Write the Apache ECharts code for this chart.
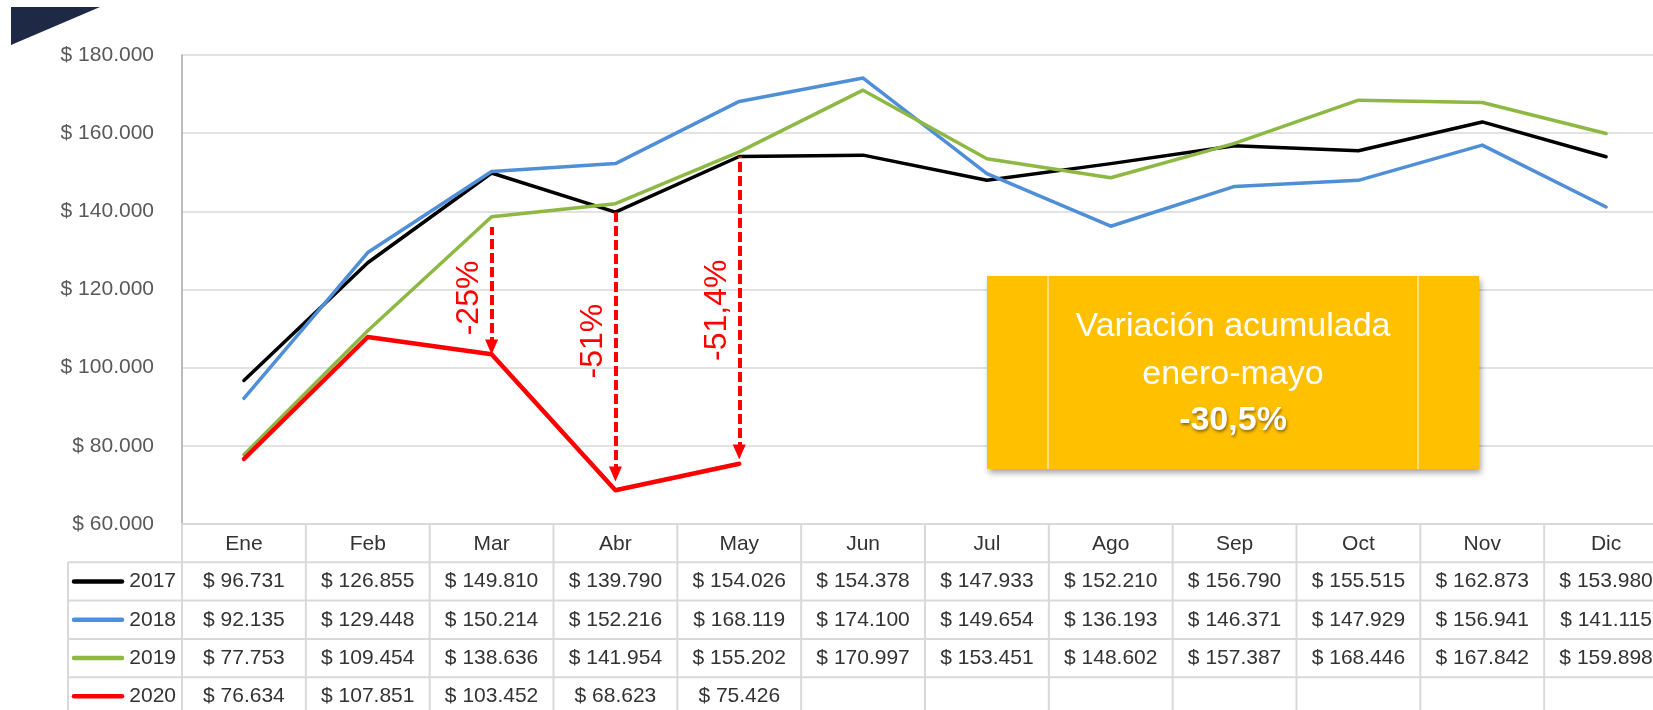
<!DOCTYPE html>
<html>
<head>
<meta charset="utf-8">
<title>Ventas mensuales 2017-2020</title>
<script src="https://cdn.jsdelivr.net/npm/echarts@6/dist/echarts.min.js"></script>
<style>
  html, body { margin: 0; padding: 0; background: #fff; }
  #chart { width: 1653px; height: 710px; }
</style>
</head>
<body>
<div id="chart"></div>
<script>
// datos
const months = ['Ene', 'Feb', 'Mar', 'Abr', 'May', 'Jun', 'Jul', 'Ago', 'Sep', 'Oct', 'Nov', 'Dic']
const years = ['2017', '2018', '2019', '2020']
const v2017 = [96731, 126855, 149810, 139790, 154026, 154378, 147933, 152210, 156790, 155515, 162873, 153980]
const v2018 = [92135, 129448, 150214, 152216, 168119, 174100, 149654, 136193, 146371, 147929, 156941, 141115]
const v2019 = [77753, 109454, 138636, 141954, 155202, 170997, 153451, 148602, 157387, 168446, 167842, 159898]
const v2020 = [76634, 107851, 103452, 68623, 75426]
const colors = ['#000000', '#4e8fd8', '#8db843', '#ff0000']

const yMin = 60000
const yMax = 180000
const yStep = 20000

// flechas de variacion
const arrowMonths = ['Mar', 'Abr', 'May']
const arrowTop = [136000, 139790, 154026]
const arrowEnd = [105300, 72800, 78400]
const arrowLabels = ['-25%', '-51%', '-51,4%']

const boxLines = ['Variación acumulada', 'enero-mayo', '-30,5%']

const FONT = '"Liberation Sans", Arial, sans-serif'
const allSeries = [v2017, v2018, v2019, v2020]
// desplazamiento de las etiquetas de flecha (px hacia abajo)
const labelNudge = [11, -2, 6]

const money = v => '$ ' + String(v).replace(/\B(?=(\d{3})+(?!\d))/g, '.')

const chart = echarts.init(document.getElementById('chart'))

const option = {
  animation: false,
  backgroundColor: '#ffffff',
  textStyle: { fontFamily: FONT },
  grid: { left: 182, top: 55, width: 1486, height: 469, outerBoundsMode: 'none', containLabel: false },
  xAxis: {
    type: 'category',
    data: months,
    boundaryGap: true,
    axisLine: { lineStyle: { color: '#d9d9d9', width: 2 } },
    axisTick: { show: false },
    axisLabel: { interval: 0, fontSize: 21, lineHeight: 21, color: '#333', margin: 10, fontFamily: FONT }
  },
  yAxis: {
    type: 'value',
    min: yMin,
    max: yMax,
    interval: yStep,
    axisLine: { show: true, lineStyle: { color: '#a6a6a6', width: 1.5 } },
    axisTick: { show: false },
    splitLine: { lineStyle: { color: '#d9d9d9', width: 1.5 } },
    axisLabel: { formatter: money, fontSize: 21, color: '#595959', margin: 28, fontFamily: FONT }
  },
  series: years.map((y, i) => ({
    name: y,
    type: 'line',
    data: allSeries[i],
    symbol: 'none',
    z: 2 + i,
    lineStyle: { color: colors[i], width: i === 3 ? 4.5 : 3.5, cap: 'round', join: 'round' },
    markLine: i !== 3 ? undefined : {
      silent: true,
      symbol: ['triangle', 'none'],
      symbolSize: [13, 15],
      lineStyle: { color: '#ff0000', type: [10, 4], width: 4 },
      label: {
        show: true,
        position: 'insideMiddleTop',
        distance: 6,
        color: '#ff0000',
        fontSize: 32,
        fontFamily: FONT,
        formatter: p => arrowLabels[p.dataIndex]
      },
      data: arrowMonths.map((m, k) => [
        {
          coord: [m, arrowEnd[k]],
          label: { padding: labelNudge[k] > 0 ? [0, 2 * labelNudge[k], 0, 0] : [0, 0, 0, -2 * labelNudge[k]] }
        },
        { coord: [m, arrowTop[k]] }
      ])
    }
  }))
}

chart.setOption(option)

// tabla de datos bajo el eje
const px = m => chart.convertToPixel({ xAxisIndex: 0 }, m)
const x0 = px(months[0])
const step = px(months[1]) - x0
const axisY = chart.convertToPixel({ yAxisIndex: 0 }, yMin)
const rowH = 38.3
const legendLeft = 68
const gridColor = '#d9d9d9'
const g = []

for (let k = 1; k <= 4; k++) {
  const y = axisY + rowH * k
  g.push({ type: 'line', shape: { x1: legendLeft, y1: y, x2: 1653, y2: y }, style: { stroke: gridColor, lineWidth: 2 } })
}
for (let j = 0; j <= months.length; j++) {
  const x = x0 - step / 2 + j * step
  g.push({ type: 'line', shape: { x1: x, y1: axisY, x2: x, y2: 710 }, style: { stroke: gridColor, lineWidth: 2 } })
}
g.push({ type: 'line', shape: { x1: legendLeft, y1: axisY + rowH, x2: legendLeft, y2: 710 }, style: { stroke: gridColor, lineWidth: 2 } })

years.forEach((yr, i) => {
  const cy = axisY + rowH * (i + 1.5)
  g.push({ type: 'line', shape: { x1: 74, y1: cy, x2: 122, y2: cy }, style: { stroke: colors[i], lineWidth: 4.5, lineCap: 'round' } })
  g.push({ type: 'text', x: 176, y: cy, style: { text: yr, font: '21px ' + FONT, fill: '#333', textAlign: 'right', textVerticalAlign: 'middle' } })
  allSeries[i].forEach((v, j) => {
    g.push({ type: 'text', x: px(months[j]), y: cy, style: { text: money(v), font: '21px ' + FONT, fill: '#333', textAlign: 'center', textVerticalAlign: 'middle' } })
  })
})

// recuadro de variacion acumulada
g.push({
  type: 'rect',
  shape: { x: 987, y: 276, width: 492, height: 193 },
  style: { fill: '#ffc000', shadowBlur: 6, shadowOffsetX: 2, shadowOffsetY: 4, shadowColor: 'rgba(0,0,0,0.35)' },
  z: 20
})
g.push({ type: 'line', shape: { x1: 1048, y1: 276, x2: 1048, y2: 469 }, style: { stroke: '#ffe9a8', lineWidth: 1.5 }, z: 21 })
g.push({ type: 'line', shape: { x1: 1418, y1: 276, x2: 1418, y2: 469 }, style: { stroke: '#ffe9a8', lineWidth: 1.5 }, z: 21 })
const boxY = [327, 375, 421]
boxLines.forEach((t, i) => {
  g.push({
    type: 'text', x: 1233, y: boxY[i], z: 22,
    style: Object.assign({
      text: t, fill: '#ffffff', textAlign: 'center', textVerticalAlign: 'middle',
      font: (i === 2 ? 'bold ' : '') + '34px ' + FONT
    }, i === 2 ? { textShadowColor: 'rgba(0,0,0,0.45)', textShadowBlur: 3, textShadowOffsetX: 1, textShadowOffsetY: 2 } : {})
  })
})

// triangulo decorativo
g.push({ type: 'polygon', shape: { points: [[11, 7], [100, 7], [11, 45]] }, style: { fill: '#1e2a45' } })

chart.setOption({ graphic: g })
</script>
</body>
</html>
